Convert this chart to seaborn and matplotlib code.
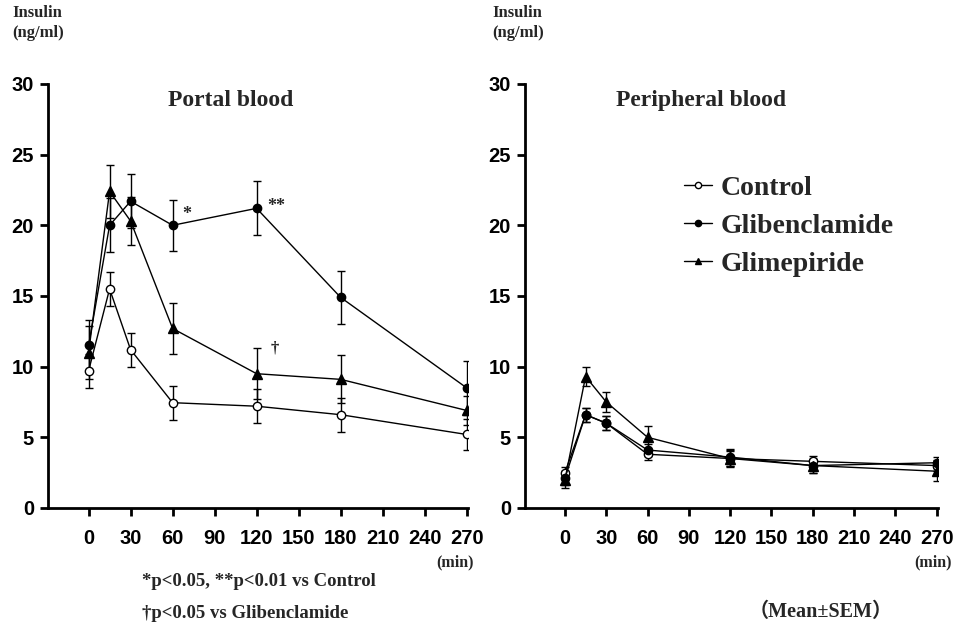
import matplotlib
matplotlib.use("Agg")
import matplotlib.pyplot as plt
import seaborn as sns
import pandas as pd
from matplotlib.lines import Line2D

# ---- data ----
times = [0, 15, 30, 60, 120, 180, 270]
groups = ["Control", "Glibenclamide", "Glimepiride"]

portal_control = [9.7, 15.5, 11.2, 7.45, 7.2, 6.6, 5.2]
portal_control_sem = [1.2, 1.2, 1.2, 1.2, 1.2, 1.2, 1.1]
portal_glib = [11.5, 20.0, 21.7, 20.0, 21.2, 14.9, 8.5]
portal_glib_sem = [1.8, 1.9, 1.9, 1.8, 1.9, 1.9, 1.9]
portal_glim = [11.0, 22.4, 20.3, 12.7, 9.5, 9.1, 6.9]
portal_glim_sem = [1.9, 1.9, 1.7, 1.8, 1.8, 1.7, 1.0]

periph_control = [2.5, 6.6, 6.0, 3.8, 3.5, 3.3, 3.0]
periph_control_sem = [0.4, 0.5, 0.5, 0.4, 0.5, 0.4, 0.4]
periph_glib = [2.1, 6.6, 6.0, 4.1, 3.6, 3.0, 3.2]
periph_glib_sem = [0.5, 0.5, 0.5, 0.4, 0.6, 0.5, 0.4]
periph_glim = [2.0, 9.3, 7.5, 5.0, 3.5, 3.0, 2.6]
periph_glim_sem = [0.6, 0.7, 0.7, 0.8, 0.6, 0.5, 0.7]

xticks = [0, 30, 60, 90, 120, 150, 180, 210, 240, 270]
yticks = [0, 5, 10, 15, 20, 25, 30]

sns.set_style("ticks")
plt.rcParams["font.family"] = ["Liberation Sans", "DejaVu Sans"]

SERIF = ["Liberation Serif", "Noto Sans CJK JP", "DejaVu Serif"]

fig = plt.figure(figsize=(9.54, 6.3), dpi=100)
ax1 = fig.add_axes([0.0503, 0.1937, 0.4403, 0.673])
ax2 = fig.add_axes([0.5503, 0.1937, 0.4330, 0.673])

styles = {
    "Control": dict(marker="o", mfc="white", ms=6),
    "Glibenclamide": dict(marker="o", mfc="black", ms=6),
    "Glimepiride": dict(marker="^", mfc="black", ms=7),
}


def make_df(c, cs, g, gs, m, ms):
    rows = []
    for name, vals, sems in [("Control", c, cs), ("Glibenclamide", g, gs), ("Glimepiride", m, ms)]:
        for t, v, s in zip(times, vals, sems):
            rows.append(dict(time=t, insulin=v, sem=s, group=name))
    return pd.DataFrame(rows)


df_portal = make_df(portal_control, portal_control_sem, portal_glib, portal_glib_sem,
                    portal_glim, portal_glim_sem)
df_periph = make_df(periph_control, periph_control_sem, periph_glib, periph_glib_sem,
                    periph_glim, periph_glim_sem)


def draw(ax, df):
    for name in groups:
        sub = df[df.group == name]
        ax.errorbar(sub.time, sub.insulin, yerr=sub["sem"], fmt="none", ecolor="black",
                    elinewidth=1.0, capsize=3, capthick=1.0, zorder=2)
    for name in groups:
        sub = df[df.group == name]
        st = styles[name]
        sns.lineplot(data=sub, x="time", y="insulin", ax=ax, color="black", lw=1.0,
                     marker=st["marker"], markersize=st["ms"],
                     markerfacecolor=st["mfc"], markeredgecolor="black", markeredgewidth=1.0,
                     zorder=3, legend=False)
    ax.set_xlim(-29, 271)
    ax.set_ylim(0, 30)
    ax.set_xticks(xticks)
    ax.set_yticks(yticks)
    ax.set_xlabel("")
    ax.set_ylabel("")
    for s in ["top", "right"]:
        ax.spines[s].set_visible(False)
    for s in ["left", "bottom"]:
        ax.spines[s].set_linewidth(2.0)
        ax.spines[s].set_color("black")
    ax.tick_params(axis="both", direction="out", length=6, width=2.0, colors="black",
                   labelsize=14.5)
    ax.tick_params(axis="x", pad=9)
    ax.tick_params(axis="y", pad=4)
    for lab in ax.get_xticklabels() + ax.get_yticklabels():
        lab.set_fontweight("bold")


draw(ax1, df_portal)
draw(ax2, df_periph)

ax1.text(0.436, 0.96, "Portal blood", transform=ax1.transAxes, ha="center", va="center",
         family=SERIF, fontweight="bold", fontsize=17)
ax2.text(0.427, 0.96, "Peripheral blood", transform=ax2.transAxes, ha="center", va="center",
         family=SERIF, fontweight="bold", fontsize=17)

# significance marks
ax1.text(70, 20.8, "*", ha="center", va="center", family=SERIF, fontweight="bold", fontsize=13)
ax1.text(134, 21.3, "**", ha="center", va="center", family=SERIF, fontweight="bold", fontsize=13)
ax1.text(133, 11.3, "†", ha="center", va="center", family=SERIF, fontweight="bold", fontsize=12)

# y-axis labels
for x in [12, 492]:
    fig.text(x / 954, 1 - 13 / 630, "Insulin", ha="left", va="center", family=SERIF,
             fontweight="bold", fontsize=12)
    fig.text(x / 954, 1 - 33 / 630, "(ng/ml)", ha="left", va="center", family=SERIF,
             fontweight="bold", fontsize=12)

# (min) labels
fig.text(474 / 954, 1 - 562 / 630, "(min)", ha="right", va="center", family=SERIF,
         fontweight="bold", fontsize=11.5)
fig.text(952 / 954, 1 - 562 / 630, "(min)", ha="right", va="center", family=SERIF,
         fontweight="bold", fontsize=11.5)

# footnotes
fig.text(142 / 954, 1 - 582 / 630, "*p<0.05, **p<0.01 vs Control", ha="left", va="center",
         family=SERIF, fontweight="bold", fontsize=13.5)
fig.text(142 / 954, 1 - 613 / 630, "†p<0.05 vs Glibenclamide", ha="left", va="center",
         family=SERIF, fontweight="bold", fontsize=13.5)
fig.text(821 / 954, 1 - 612 / 630, "（Mean±SEM）", ha="center", va="center",
         family=SERIF, fontweight="bold", fontsize=14.5)

# legend
handles = [Line2D([0], [0], color="black", lw=1.0, marker=styles[n]["marker"],
                  markerfacecolor=styles[n]["mfc"], markeredgecolor="black",
                  markersize=4.5)
           for n in groups]
leg = fig.legend(handles, groups, loc="center left",
                 bbox_to_anchor=(684 / 954, 1 - 226 / 630), bbox_transform=fig.transFigure,
                 frameon=False, handlelength=1.0, handletextpad=0.32, labelspacing=0.45,
                 borderpad=0, borderaxespad=0,
                 prop=dict(family="Liberation Serif", weight="bold", size=20))

fig.savefig("out.png", dpi=100)
